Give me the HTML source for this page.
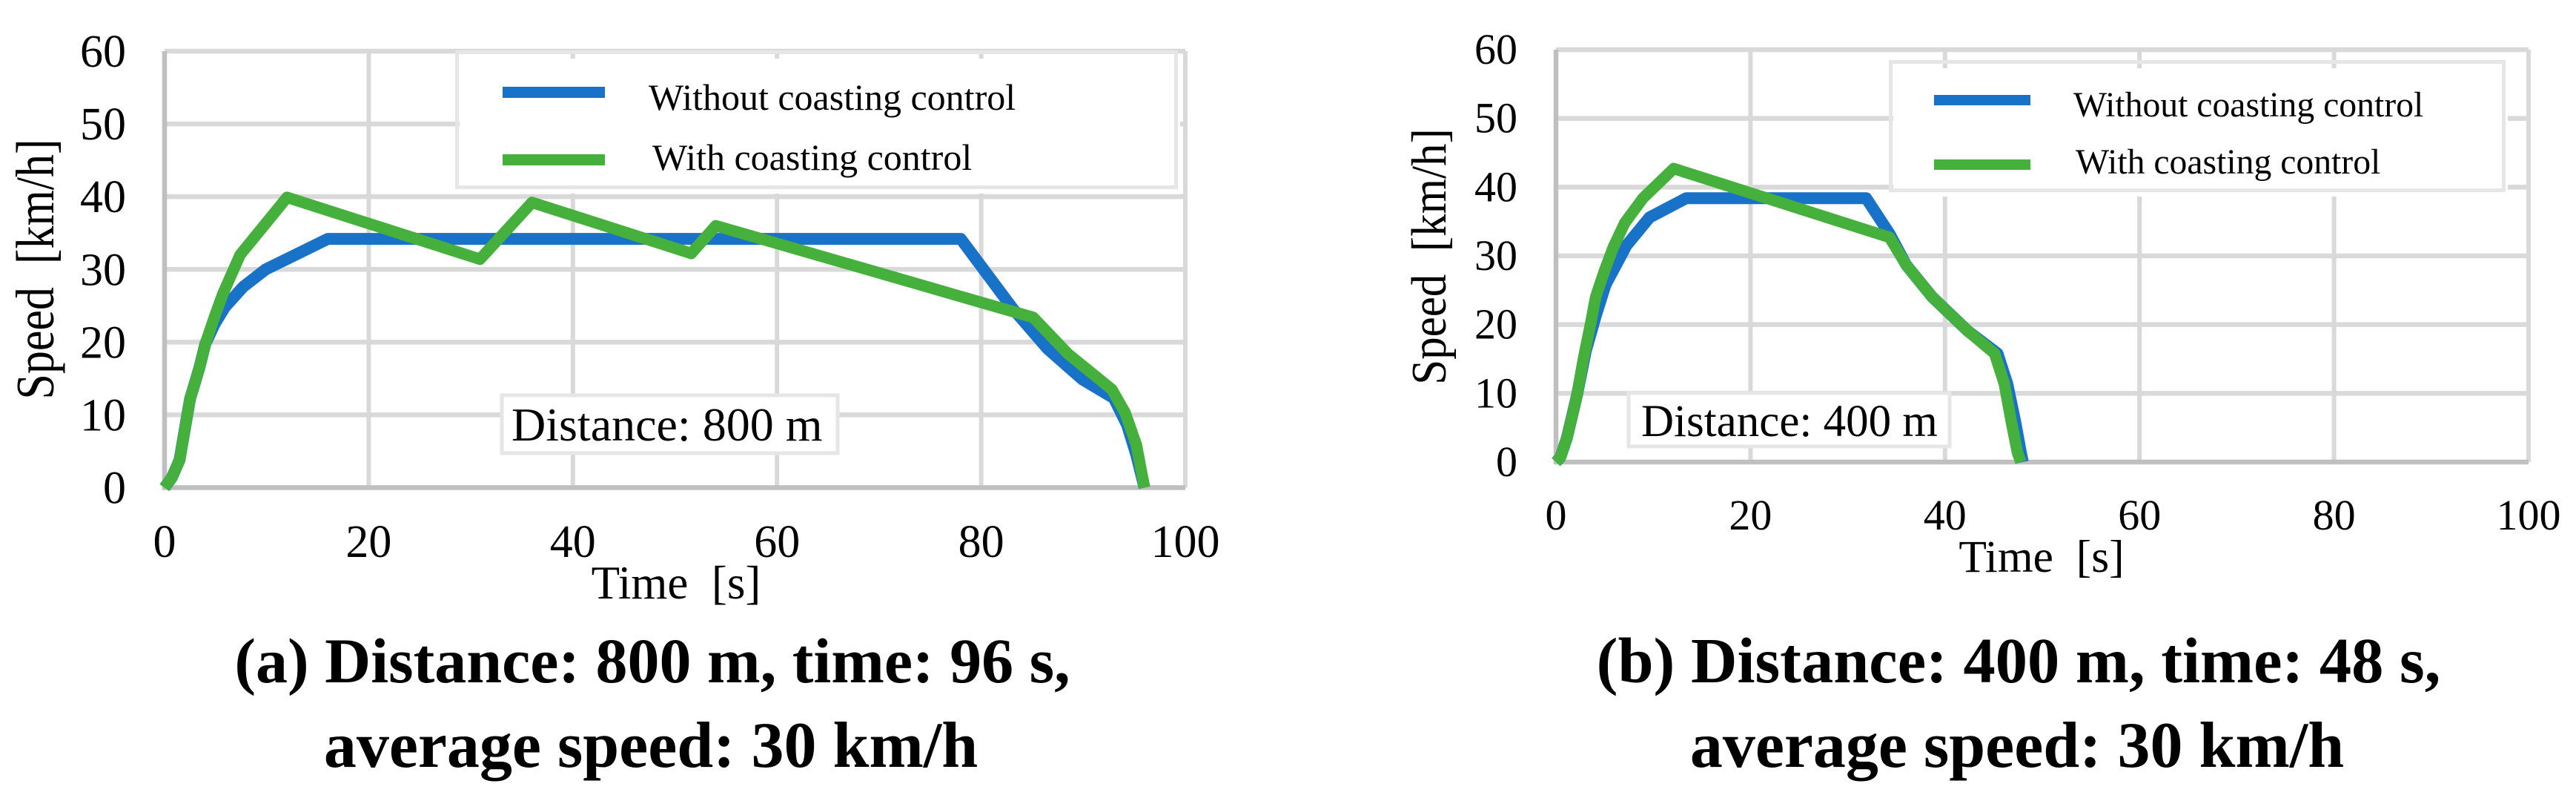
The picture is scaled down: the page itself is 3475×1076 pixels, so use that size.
<!DOCTYPE html>
<html>
<head>
<meta charset="utf-8">
<title>Speed profiles with and without coasting control</title>
<style>
  html, body { margin: 0; padding: 0; background: #fff; }
  svg { display: block; }
  text { font-family: "Liberation Serif", serif; fill: #000; white-space: pre; }
</style>
</head>
<body>
<svg id="figure" xmlns="http://www.w3.org/2000/svg" width="3475" height="1076" viewBox="0 0 3475 1076">
  <rect width="3475" height="1076" fill="#fff"/>
  <g id="chart-a"></g>
  <g id="chart-b"></g>

  <g id="overlay-a">
    <g>
      <rect x="620" y="79" width="972" height="182" fill="#fff"/>
      <rect x="616.5" y="70.5" width="970" height="182" fill="none" stroke="#e6e6e6" stroke-width="5"/>
      <rect x="678" y="117" width="138" height="15" fill="#1872c8"/>
      <text x="875" y="148" font-size="50">Without coasting control</text>
      <rect x="678" y="208" width="138" height="15" fill="#45b03c"/>
      <text x="880" y="229" font-size="50">With coasting control</text>
    </g>
    <rect x="677" y="533" width="453" height="78" fill="#fff" stroke="#e6e6e6" stroke-width="5"/>
    <text x="690" y="594" font-size="64">Distance: 800 m</text>
    <text x="912" y="807" font-size="63" text-anchor="middle">Time  [s]</text>
    <text text-anchor="middle" font-size="62" transform="translate(72,363) rotate(-90) scale(1,1.18)">Speed  [km/h]</text>
  </g>

  <g id="overlay-b">
    <g>
      <rect x="2554" y="92" width="829" height="173" fill="#fff"/>
      <rect x="2550.5" y="83.5" width="827" height="173" fill="none" stroke="#e6e6e6" stroke-width="5"/>
      <rect x="2609" y="128" width="130" height="14" fill="#1872c8"/>
      <text x="2797" y="157" font-size="47.7">Without coasting control</text>
      <rect x="2609" y="215" width="130" height="14" fill="#45b03c"/>
      <text x="2800" y="234" font-size="47.7">With coasting control</text>
    </g>
    <rect x="2197" y="530" width="433" height="72" fill="#fff" stroke="#e6e6e6" stroke-width="5"/>
    <text x="2214" y="588" font-size="61">Distance: 400 m</text>
    <text x="2754" y="771" font-size="61.5" text-anchor="middle">Time  [s]</text>
    <text text-anchor="middle" font-size="61" transform="translate(1950,346) rotate(-90) scale(1,1.1)">Speed  [km/h]</text>
  </g>

  <g font-weight="bold">
    <text x="880" y="920" font-size="86" font-weight="bold" text-anchor="middle">(a) Distance: 800 m, time: 96 s,</text>
    <text x="878" y="1034" font-size="88" font-weight="bold" text-anchor="middle">average speed: 30 km/h</text>
    <text x="2723" y="920" font-size="86.5" font-weight="bold" text-anchor="middle">(b) Distance: 400 m, time: 48 s,</text>
    <text x="2721" y="1034" font-size="88" font-weight="bold" text-anchor="middle">average speed: 30 km/h</text>
  </g>
</svg>

<script>
const xTickValues = [0, 20, 40, 60, 80, 100];
const yTickValues = [0, 10, 20, 30, 40, 50, 60];
const xDomain = [0, 100];
const yDomain = [0, 60];

const timeWithoutA = [0, 0.72, 1.47, 1.97, 2.5, 3.4, 4, 4.9, 5.9, 7.7, 9.9, 16, 78, 80.5, 83.1, 86.5, 89.9, 93, 94.3, 95.2, 96];
const speedWithoutA = [0, 1.4, 3.8, 7.9, 12.2, 16.4, 19.8, 22.5, 24.8, 27.6, 30, 34.2, 34.2, 29.5, 24.6, 19.1, 14.9, 12.3, 8.6, 4.5, 0];
const timeWithA = [0, 0.72, 1.47, 1.97, 2.5, 3.4, 4, 4.9, 5.7, 7.4, 12, 30.9, 36, 51.6, 54, 85.1, 88.5, 92.8, 94.1, 95.2, 96];
const speedWithA = [0, 1.4, 3.8, 7.9, 12.2, 16.4, 19.8, 23.5, 26.6, 32, 39.9, 31.4, 39.2, 32.2, 36, 23.4, 18.4, 13.5, 10.3, 5.9, 0];

const timeWithoutB = [0, 0.44, 1.12, 2.14, 3.06, 4.08, 5.1, 7.24, 9.63, 13.4, 31.9, 34.3, 36, 38.7, 42.4, 45.4, 46.4, 47.2, 47.8, 48];
const speedWithoutB = [0, 0.65, 3.5, 9.6, 16.1, 21.2, 25.8, 31.5, 35.6, 38.4, 38.4, 33.2, 28.7, 24, 19, 15.8, 11.4, 6, 1.4, 0];
const timeWithB = [0, 0.44, 1.12, 2.14, 2.82, 3.6, 4.08, 4.93, 5.88, 7.07, 8.95, 12.1, 34.3, 36, 38.7, 42.4, 45.1, 46.1, 46.8, 47.45, 47.8];
const speedWithB = [0, 0.65, 3.5, 9.6, 15, 20.4, 24, 27.6, 31.2, 34.8, 38.4, 42.7, 32.7, 28.7, 24, 19, 15.8, 11.4, 6, 1.4, 0];

const SVG_NS = 'http://www.w3.org/2000/svg';

function makeScale(domain, start, end) {
  return function (v) {
    return start + (v - domain[0]) / (domain[1] - domain[0]) * (end - start);
  };
}

function addEl(parent, tag, attrs) {
  const el = document.createElementNS(SVG_NS, tag);
  Object.keys(attrs).forEach(function (k) { el.setAttribute(k, attrs[k]); });
  parent.appendChild(el);
  return el;
}

function drawChart(cfg) {
  const root = document.getElementById(cfg.id);
  const x = makeScale(xDomain, cfg.left, cfg.right);
  const y = makeScale(yDomain, cfg.bottom, cfg.top);

  yTickValues.forEach(function (v) {
    if (v === 0) return;
    const line = addEl(root, 'line', { x1: cfg.left, x2: cfg.right, y1: y(v), y2: y(v), stroke: '#d9d9d9', 'stroke-width': 6.5 });
    
    
  });
  xTickValues.forEach(function (v) {
    if (v === 0) return;
    const line = addEl(root, 'line', { x1: x(v), x2: x(v), y1: cfg.top, y2: cfg.bottom, stroke: '#d9d9d9', 'stroke-width': 6 });
    
    
  });

  const xAxis = addEl(root, 'line', { x1: cfg.left - 3, x2: cfg.right, y1: y(0), y2: y(0), stroke: '#bfbfbf', 'stroke-width': 6.5 });
  
  
  const yAxis = addEl(root, 'line', { x1: x(0), x2: x(0), y1: cfg.top, y2: cfg.bottom + 3, stroke: '#bfbfbf', 'stroke-width': 6.5 });
  
  

  yTickValues.forEach(function (v) {
    const t = addEl(root, 'text', { x: cfg.yLabelX, y: y(v) + cfg.yLabelDy, 'font-size': cfg.tickSize, 'text-anchor': 'end' });
    
    
    t.textContent = String(v);
  });
  xTickValues.forEach(function (v) {
    const t = addEl(root, 'text', { x: x(v), y: cfg.xLabelY, 'font-size': cfg.tickSize, 'text-anchor': 'middle' });
    
    
    t.textContent = String(v);
  });

  function seriesPoints(times, speeds) {
    return times.map(function (t, i) { return x(t).toFixed(1) + ',' + y(speeds[i]).toFixed(1); }).join(' ');
  }

  const blue = addEl(root, 'polyline', { points: seriesPoints(cfg.timeWithout, cfg.speedWithout), fill: 'none', stroke: '#1872c8', 'stroke-width': 16, 'stroke-linejoin': 'round' });
  
  
  const green = addEl(root, 'polyline', { points: seriesPoints(cfg.timeWith, cfg.speedWith), fill: 'none', stroke: '#45b03c', 'stroke-width': 15.5, 'stroke-linejoin': 'round' });
  
  
}

drawChart({
  id: 'chart-a', left: 222, right: 1599, top: 69, bottom: 657.5,
  yLabelX: 170, yLabelDy: 21, xLabelY: 751, tickSize: 62,
  timeWithout: timeWithoutA, speedWithout: speedWithoutA, timeWith: timeWithA, speedWith: speedWithA
});
drawChart({
  id: 'chart-b', left: 2099, right: 3411, top: 67, bottom: 623,
  yLabelX: 2047, yLabelDy: 19, xLabelY: 714, tickSize: 58,
  timeWithout: timeWithoutB, speedWithout: speedWithoutB, timeWith: timeWithB, speedWith: speedWithB
});
</script>
</body>
</html>
